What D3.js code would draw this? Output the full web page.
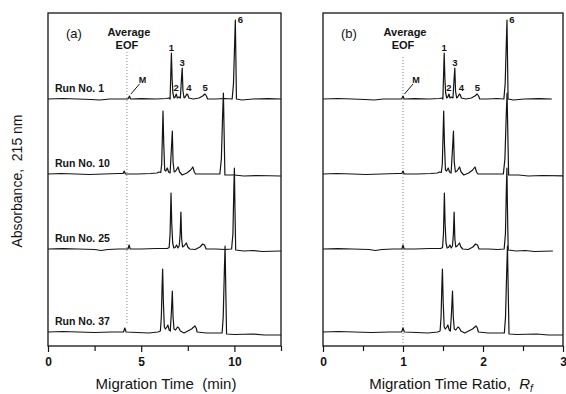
<!DOCTYPE html>
<html>
<head>
<meta charset="utf-8">
<script src="https://cdn.jsdelivr.net/npm/d3@7"></script>
<style>
  body { margin: 0; background: #fff; }
  svg { display: block; font-family: "Liberation Sans", Arial, sans-serif; }
</style>
</head>
<body>
<div id="chart"></div>
<script>
// runs shown, EOF (marker M) time of each run in min, stacking offset in mAU
const runNames = ['Run No. 1', 'Run No. 10', 'Run No. 25', 'Run No. 37']
const runEof = [4.37, 4.09, 4.35, 4.12]
const runOffset = [247, 172, 97, 14]

// traces: [migration time (min), absorbance above baseline (mAU)]
const run1 = [[0, 0], [0.8, 0.5], [1.6, 0], [2.3, -0.5], [2.8, -1], [3.3, 0], [4.25, 0], [4.31, 0.5],
  [4.37, 3], [4.43, 0], [5.0, 0.3], [5.8, 0], [6.35, 0.5], [6.5, 1], [6.55, 0], [6.58, 20], [6.62, 46],
  [6.66, 20], [6.7, 6], [6.76, 1], [6.82, 2], [6.88, 5], [6.94, 1], [7.02, 2], [7.1, 1], [7.16, 20],
  [7.2, 31], [7.24, 8], [7.3, 1], [7.36, 2], [7.45, 5], [7.5, 4], [7.56, 1], [7.8, 0], [8.1, 1], [8.3, 3],
  [8.42, 5], [8.5, 3], [8.56, 0], [9.0, 0], [9.5, 0.5], [9.88, 0], [9.95, 15], [10.02, 60], [10.05, 79],
  [10.08, 40], [10.11, 0], [10.4, -1], [11.0, 0], [11.8, 0.3], [12.5, 0]]
const run10 = [[0, 0], [0.7, 0.5], [1.5, 0], [2.2, -0.5], [3.0, 0], [3.8, 0.5], [4.03, 0.5], [4.09, 3],
  [4.15, 0], [4.8, 0], [5.5, 0.5], [5.85, 1], [5.95, 2], [6.05, 1.5], [6.1, 10], [6.17, 63], [6.21, 30],
  [6.26, 4], [6.32, 3], [6.4, 6], [6.47, 2], [6.55, 1], [6.62, 25], [6.67, 43], [6.71, 12], [6.77, 2],
  [6.85, 3], [6.98, 7], [7.06, 2], [7.2, -1], [7.45, 1], [7.65, 4], [7.77, 7], [7.85, 2], [7.92, 0],
  [8.5, 0], [9.22, 0], [9.3, 15], [9.37, 60], [9.41, 81], [9.45, 40], [9.49, -1], [10.0, -1], [10.5, -2],
  [11.2, -1.5], [12.5, -2]]
const run25 = [[0, 0], [0.8, 0.3], [1.6, 0], [2.5, -0.5], [2.85, -1.5], [3.2, -0.5], [3.8, 0], [4.29, 0],
  [4.35, 4], [4.41, 0], [5.0, 0], [5.8, 0.5], [6.4, 0.5], [6.5, 1.5], [6.55, 15], [6.6, 56], [6.64, 25],
  [6.69, 6], [6.75, 1], [6.82, 1.5], [6.9, 4], [6.97, 1], [7.04, 3], [7.09, 15], [7.13, 37], [7.17, 10],
  [7.22, 2], [7.3, 3], [7.42, 6], [7.5, 2], [7.6, 0], [7.9, -0.5], [8.15, 2], [8.3, 5], [8.4, 4],
  [8.48, 0], [9.0, 0], [9.5, -0.5], [9.85, 0], [9.92, 15], [9.97, 60], [10.0, 81], [10.03, 40],
  [10.07, -1], [10.5, -2], [11.0, -1.5], [11.5, -2.5], [12.5, -2]]
const run37 = [[0, 0], [0.8, 0.5], [1.6, 0], [2.5, -0.5], [3.4, 0], [4.05, 0], [4.12, 4], [4.19, 0],
  [4.8, -0.5], [5.4, -1], [5.9, 0], [6.03, 1], [6.08, 15], [6.12, 45], [6.15, 63], [6.19, 30], [6.24, 5],
  [6.3, 3], [6.38, 5], [6.43, 7], [6.5, 2], [6.56, 1], [6.62, 20], [6.67, 41], [6.71, 15], [6.76, 3],
  [6.84, 2], [6.95, 5], [7.02, 4], [7.1, 1], [7.3, -1], [7.5, 1], [7.7, 3], [7.88, 6], [7.95, 4], [8.0, 0],
  [8.5, -1], [9.0, -1], [9.34, -1], [9.4, 15], [9.46, 60], [9.5, 86], [9.54, 40], [9.58, -2], [10.0, -2.5],
  [11.0, -2], [11.6, -3], [12.5, -3]]
const runs = [run1, run10, run25, run37]

// peak numbers above run 1 (time in min, height above run 1 baseline)
const peakLabels = ['1', '2', '3', '4', '5', '6']
const peakLabelTime = [6.62, 6.88, 7.2, 7.56, 8.43, 10.05]
const peakLabelHeight = [52, 12, 37, 12, 12, 80]

const timeTicks = [0, 5, 10]
const timeMinorTicks = [2.5, 7.5, 12.5]
const ratioTicks = [0, 1, 2, 3]
const ratioMinorTicks = [0.5, 1.5, 2.5]

const width = 566, height = 394
const plotTop = 13, plotBottom = 346
const ink = '#141414'

const svg = d3.select('#chart').append('svg')
    .attr('width', width)
    .attr('height', height)

const y = d3.scaleLinear().domain([0, 333]).range([plotBottom, plotTop])

const panels = [
    {key: 'a', tag: '(a)', left: 48, right: 281, domain: [0, 12.5], ticks: timeTicks, minor: timeMinorTicks,
        toX: (t, i) => t, eof: d3.mean(runEof), eofTop: 52, eofBottom: 325},
    {key: 'b', tag: '(b)', left: 323, right: 563, domain: [0, 3], ticks: ratioTicks, minor: ratioMinorTicks,
        toX: (t, i) => t / runEof[i], eof: 1, eofTop: 57, eofBottom: plotBottom},
]

panels.forEach(p => {
    const x = d3.scaleLinear().domain(p.domain).range([p.left, p.right])
    const g = svg.append('g')

    g.append('clipPath').attr('id', `clip-${p.key}`)
        .append('rect')
        .attr('x', p.left).attr('y', plotTop)
        .attr('width', p.right - p.left).attr('height', plotBottom - plotTop)

    // x axis, ticks hang below the frame
    const axis = g.append('g')
        .attr('transform', `translate(0,${plotBottom})`)
        .call(d3.axisBottom(x).tickValues(p.ticks).tickSize(6).tickPadding(5).tickFormat(d3.format('d')))
    axis.append('g')
        .call(d3.axisBottom(x).tickValues(p.minor).tickSize(5).tickFormat(''))
    axis.selectAll('.domain').remove()
    axis.selectAll('line').attr('stroke', ink).attr('stroke-width', 1.2)
    axis.selectAll('text')
        .attr('fill', ink)
        .style('font-size', '12px')
        .style('font-weight', 'bold')

    g.append('rect')
        .attr('x', p.left).attr('y', plotTop)
        .attr('width', p.right - p.left).attr('height', plotBottom - plotTop)
        .attr('fill', 'none')
        .attr('stroke', ink)
        .attr('stroke-width', 1.3)

    // average EOF marker
    g.append('line')
        .attr('x1', x(p.eof)).attr('x2', x(p.eof))
        .attr('y1', p.eofTop).attr('y2', p.eofBottom)
        .attr('stroke', '#666')
        .attr('stroke-width', 0.8)
        .attr('stroke-dasharray', '1,2')

    const eofText = g.append('text')
        .attr('text-anchor', 'middle')
        .attr('fill', ink)
        .style('font-size', '11px')
        .style('font-weight', 'bold')
    eofText.append('tspan').attr('x', x(p.eof) + 2).attr('y', 36).text('Average')
    eofText.append('tspan').attr('x', x(p.eof)).attr('y', 49).text('EOF')

    g.append('text')
        .attr('x', p.left + 18).attr('y', 38)
        .attr('fill', ink)
        .style('font-size', '13px')
        .text(p.tag)

    const line = d3.line()
        .x(d => x(d[0]))
        .y(d => y(d[1]))

    g.append('g')
        .attr('clip-path', `url(#clip-${p.key})`)
        .selectAll('path')
        .data(runs)
        .enter().append('path')
        .attr('d', (run, i) => line(run.map(d => [p.toX(d[0], i), d[1] + runOffset[i]])))
        .attr('fill', 'none')
        .attr('stroke', ink)
        .attr('stroke-width', 1.2)
        .attr('stroke-linejoin', 'round')

    // peak numbers on run 1
    g.append('g').selectAll('text')
        .data(peakLabels)
        .enter().append('text')
        .attr('x', (d, i) => x(p.toX(peakLabelTime[i], 0)) + (d === '6' ? 5 : 0))
        .attr('y', (d, i) => y(runOffset[0] + peakLabelHeight[i]) + 3.5)
        .attr('text-anchor', 'middle')
        .attr('fill', ink)
        .style('font-size', '9.5px')
        .style('font-weight', 'bold')
        .text(d => d)

    // M (EOF marker peak) of run 1
    const mx = x(p.toX(runEof[0], 0)), my = y(runOffset[0])
    g.append('line')
        .attr('x1', mx + 1.5).attr('y1', my - 5)
        .attr('x2', mx + 10).attr('y2', my - 15)
        .attr('stroke', ink)
        .attr('stroke-width', 1)
    g.append('text')
        .attr('x', mx + 13).attr('y', my - 16.5)
        .attr('text-anchor', 'middle')
        .attr('fill', ink)
        .style('font-size', '9px')
        .style('font-weight', 'bold')
        .text('M')

    if (p.key === 'a') {
        g.append('g').selectAll('text')
            .data(runNames)
            .enter().append('text')
            .attr('x', 55)
            .attr('y', (d, i) => y(runOffset[i]) - 7)
            .attr('fill', ink)
            .style('font-size', '10.5px')
            .style('font-weight', 'bold')
            .text(d => d)
    }
})

// axis titles
svg.append('text')
    .attr('x', 166).attr('y', 389)
    .attr('text-anchor', 'middle')
    .attr('fill', ink)
    .style('font-size', '15px')
    .text('Migration Time\u00a0\u00a0(min)')

const rTitle = svg.append('text')
    .attr('x', 451).attr('y', 389)
    .attr('text-anchor', 'middle')
    .attr('fill', ink)
    .style('font-size', '15px')
rTitle.append('tspan').text('Migration Time Ratio,\u00a0\u00a0')
rTitle.append('tspan').style('font-style', 'italic').text('R')
rTitle.append('tspan').attr('dy', 3).style('font-size', '10px').style('font-style', 'italic').text('f')

svg.append('text')
    .attr('transform', 'translate(22,181) rotate(-90)')
    .attr('text-anchor', 'middle')
    .attr('fill', ink)
    .style('font-size', '14px')
    .text('Absorbance,\u00a0\u00a0215 nm')
</script>
</body>
</html>
